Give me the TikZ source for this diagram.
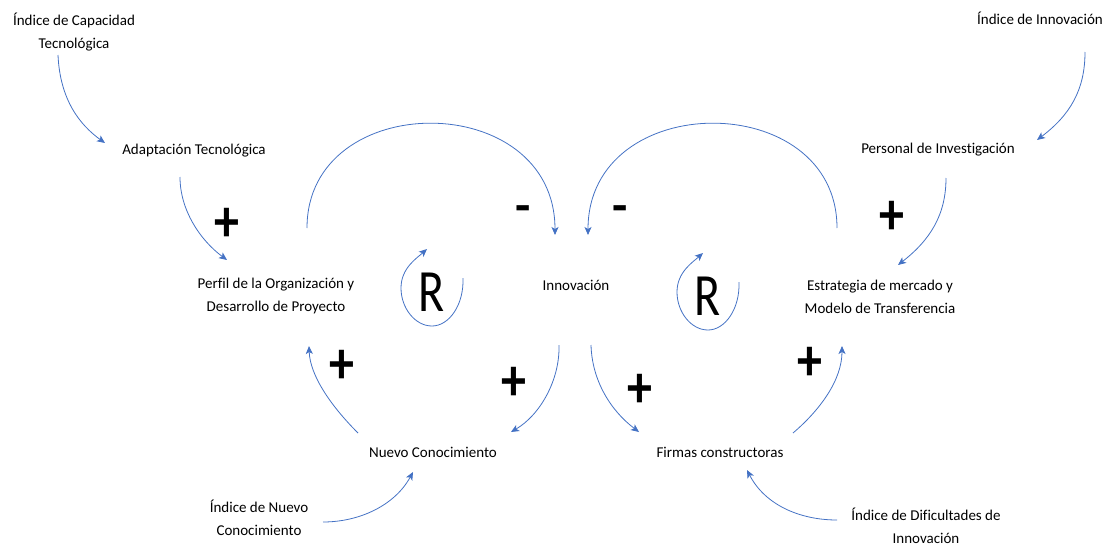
\documentclass[tikz,border=0pt]{standalone}
\usepackage{fontspec}
\setmainfont{Carlito}[Ligatures=NoCommon]
\usetikzlibrary{arrows.meta}
\definecolor{linkblue}{HTML}{4472C4}
\newcommand{\plussign}{\scalebox{1}[1.2]{+}}
\newcommand{\loopR}{\scalebox{0.8}[1]{R}}
\begin{document}
\begin{tikzpicture}[x=1pt,y=-1pt,
  var/.style={inner sep=0pt,align=center,font=\fontsize{15}{23}\selectfont},
  sign/.style={inner sep=0pt,font=\fontsize{50}{50}\selectfont\bfseries},
  loopletter/.style={inner sep=0pt,font=\fontsize{60}{60}\selectfont},
  link/.style={draw=linkblue,line width=0.8pt,-{Stealth[length=8pt,width=7pt,inset=2pt]}}]
\useasboundingbox (0,0) rectangle (1111,546);

% variables
\node[var] (capT)   at (74,32)   {Índice de Capacidad\\Tecnológica};
\node[var] (adapt)  at (194,151) {Adaptación Tecnológica};
\node[var] (perfil) at (276,296) {Perfil de la Organización y\\Desarrollo de Proyecto};
\node[var] (innov)  at (576,285) {Innovación};
\node[var] (estr)   at (880,297) {Estrategia de mercado y\\Modelo de Transferencia};
\node[var] (pers)   at (938,150) {Personal de Investigación};
\node[var] (iinnov) at (1040,18) {Índice de Innovación};
\node[var] (nuevo)  at (433,452) {Nuevo Conocimiento};
\node[var] (firmas) at (720,452) {Firmas constructoras};
\node[var] (inuevo) at (259,518) {Índice de Nuevo\\Conocimiento};
\node[var] (idif)   at (926,526) {Índice de Dificultades de\\Innovación};

% loop markers
\node[loopletter] (rl) at (432,292) {\loopR};
\node[loopletter] (rr) at (708,296) {\loopR};

% polarities
\node[sign] (p1) at (227,225) {\plussign};
\node[sign] (p2) at (892,218) {\plussign};
\node[sign] (p3) at (342,367) {\plussign};
\node[sign] (p4) at (514,384) {\plussign};
\node[sign] (p5) at (640,391) {\plussign};
\node[sign] (p6) at (810,364) {\plussign};
\node[sign] (m1) at (523,214) {-};
\node[sign] (m2) at (620,214) {-};

% causal links
\draw[link] ([shift={(-16,23)}]capT.center) .. controls +(2,45) and +(-25,-18) .. ([shift={(-89,-8)}]adapt.center);
\draw[link] ([shift={(-14,26)}]adapt.center) .. controls +(0,33) and +(-27,-20) .. ([shift={(-49,-36)}]perfil.center);
\draw[link] ([shift={(31,-68)}]perfil.center) .. controls +(0,-140) and +(0,-147) .. ([shift={(-21,-50)}]innov.center);
\draw[link] ([shift={(-43,-69)}]estr.center) .. controls +(0,-140) and +(0,-147) .. ([shift={(12,-50)}]innov.center);
\draw[link] ([shift={(8,28)}]pers.center) .. controls +(0,37) and +(32,-25) .. ([shift={(18,-32)}]estr.center);
\draw[link] ([shift={(45,34)}]iinnov.center) .. controls +(0,38) and +(33,-25) .. ([shift={(99,-10)}]pers.center);
\draw[link] ([shift={(-75,-19)}]nuevo.center) .. controls +(-28,-28) and +(1,29) .. ([shift={(33,50)}]perfil.center);
\draw[link] ([shift={(-17,60)}]innov.center) .. controls +(1,35) and +(29,-17) .. ([shift={(78,-20)}]nuevo.center);
\draw[link] ([shift={(64,4)}]inuevo.center) .. controls +(37,0) and +(-18,33) .. ([shift={(-20,20)}]nuevo.center);
\draw[link] ([shift={(15,60)}]innov.center) .. controls +(1,35) and +(-29,-22) .. ([shift={(-81,-20)}]firmas.center);
\draw[link] ([shift={(73,-19)}]firmas.center) .. controls +(27,-23) and +(0,34) .. ([shift={(-38,49)}]estr.center);
\draw[link] ([shift={(-89,-6)}]idif.center) .. controls +(-37,0) and +(18,35) .. ([shift={(27,18)}]firmas.center);

% reinforcing loop arrows
\foreach \r in {rl,rr}{
  \draw[link] ([shift={(31,-14)}]\r.center)
    .. controls +(1,27) and +(17,0) .. ([shift={(0,34)}]\r.center)
    .. controls +(-17,0) and +(0,20) .. ([shift={(-31,-4)}]\r.center)
    .. controls +(0,-20) and +(-10,9) .. ([shift={(-5,-43)}]\r.center);
}
\end{tikzpicture}
\end{document}
